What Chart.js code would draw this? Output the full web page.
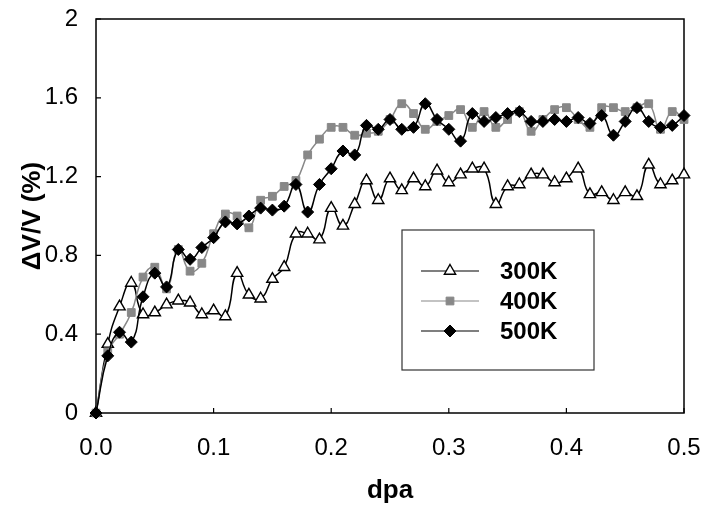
<!DOCTYPE html>
<html>
<head>
<meta charset="utf-8">
<script src="https://cdn.jsdelivr.net/npm/chart.js@4.4.1/dist/chart.umd.min.js"></script>
<style>
  html, body { margin: 0; padding: 0; background: #fff; }
  #wrap { width: 702px; height: 510px; position: relative; }
</style>
</head>
<body>
<div id="wrap"><canvas id="chart"></canvas></div>
<script>
// dpa values (x)
const dpa = [0, 0.01, 0.02, 0.03, 0.04, 0.05, 0.06, 0.07, 0.08, 0.09,
  0.10, 0.11, 0.12, 0.13, 0.14, 0.15, 0.16, 0.17, 0.18, 0.19,
  0.20, 0.21, 0.22, 0.23, 0.24, 0.25, 0.26, 0.27, 0.28, 0.29,
  0.30, 0.31, 0.32, 0.33, 0.34, 0.35, 0.36, 0.37, 0.38, 0.39,
  0.40, 0.41, 0.42, 0.43, 0.44, 0.45, 0.46, 0.47, 0.48, 0.49, 0.50];

// dV/V (%) per temperature
const s300K = [0, 0.35, 0.54, 0.66, 0.50, 0.51, 0.55, 0.57, 0.56, 0.50,
  0.52, 0.49, 0.71, 0.60, 0.58, 0.68, 0.74, 0.91, 0.91, 0.88,
  1.04, 0.95, 1.06, 1.18, 1.08, 1.19, 1.13, 1.19, 1.15, 1.23,
  1.17, 1.21, 1.24, 1.24, 1.06, 1.15, 1.16, 1.21, 1.21, 1.17,
  1.19, 1.24, 1.11, 1.12, 1.08, 1.12, 1.10, 1.26, 1.16, 1.18, 1.21];

const s400K = [0, 0.31, 0.40, 0.51, 0.69, 0.74, 0.63, 0.83, 0.72, 0.76,
  0.91, 1.01, 1.00, 0.94, 1.08, 1.10, 1.15, 1.18, 1.31, 1.39,
  1.45, 1.45, 1.41, 1.42, 1.43, 1.49, 1.57, 1.52, 1.44, 1.48,
  1.51, 1.54, 1.45, 1.53, 1.45, 1.49, 1.53, 1.43, 1.49, 1.54,
  1.55, 1.49, 1.45, 1.55, 1.55, 1.53, 1.55, 1.57, 1.44, 1.53, 1.49];

const s500K = [0, 0.29, 0.41, 0.36, 0.59, 0.71, 0.64, 0.83, 0.78, 0.84,
  0.89, 0.97, 0.96, 1.00, 1.04, 1.03, 1.05, 1.16, 1.02, 1.16,
  1.24, 1.33, 1.31, 1.46, 1.44, 1.49, 1.44, 1.45, 1.57, 1.49,
  1.44, 1.38, 1.52, 1.48, 1.50, 1.52, 1.53, 1.48, 1.48, 1.49,
  1.48, 1.50, 1.47, 1.51, 1.41, 1.48, 1.55, 1.48, 1.45, 1.46, 1.51];

const seriesNames = ['300K', '400K', '500K'];
const xTicks = [0, 0.1, 0.2, 0.3, 0.4, 0.5];
const yTicks = [0, 0.4, 0.8, 1.2, 1.6, 2];

function pts(vals){ return vals.map((v, i) => ({ x: dpa[i], y: v })); }

const FONT = '"Liberation Sans", Arial, sans-serif';
const GRAY = '#888888';

// frame, inward tick marks and the boxed legend
const framePlugin = {
  id: 'frame',
  beforeDatasetsDraw(chart){
    const { ctx, chartArea: a, scales } = chart;
    ctx.save();
    ctx.strokeStyle = '#000';
    ctx.lineWidth = 1.5;
    ctx.strokeRect(a.left, a.top, a.right - a.left, a.bottom - a.top);
    ctx.lineWidth = 1.2;
    ctx.beginPath();
    xTicks.forEach(t => {
      const x = scales.x.getPixelForValue(t);
      ctx.moveTo(x, a.bottom); ctx.lineTo(x, a.bottom - 5);
    });
    yTicks.forEach(t => {
      const y = scales.y.getPixelForValue(t);
      ctx.moveTo(a.left, y); ctx.lineTo(a.left + 5, y);
    });
    ctx.stroke();
    ctx.restore();
  },
  afterDraw(chart){
    const { ctx, chartArea: a } = chart;
    const bx = a.left + 306, by = a.top + 211, bw = 192, bh = 140;
    ctx.save();
    ctx.fillStyle = '#fff';
    ctx.fillRect(bx, by, bw, bh);
    ctx.strokeStyle = '#333';
    ctx.lineWidth = 1.2;
    ctx.strokeRect(bx, by, bw, bh);
    chart.data.datasets.forEach((ds, i) => {
      const y = by + 41 + i * 30;
      ctx.strokeStyle = ds.borderColor;
      ctx.lineWidth = 1.2;
      ctx.beginPath();
      ctx.moveTo(bx + 19, y); ctx.lineTo(bx + 77, y);
      ctx.stroke();
      ctx.fillStyle = ds.pointBackgroundColor;
      ctx.strokeStyle = ds.pointBorderColor;
      ctx.lineWidth = ds.pointBorderWidth;
      Chart.helpers.drawPoint(ctx, {
        pointStyle: ds.pointStyle, radius: ds.pointRadius, rotation: 0,
        borderWidth: ds.pointBorderWidth
      }, bx + 48, y);
      ctx.fillStyle = '#000';
      ctx.font = 'bold 24px ' + FONT;
      ctx.textAlign = 'left';
      ctx.textBaseline = 'middle';
      ctx.fillText(seriesNames[i], bx + 98, y + 1);
    });
    ctx.restore();
  }
};

const common = {
  borderWidth: 1.5,
  tension: 0.5,
  clip: false,
  pointHoverRadius: 5
};

new Chart(document.getElementById('chart'), {
  type: 'line',
  data: {
    datasets: [
      Object.assign({}, common, {
        label: seriesNames[0], data: pts(s300K), order: 2,
        borderColor: '#000', pointStyle: 'triangle', pointRadius: 6.5,
        pointBackgroundColor: '#fff', pointBorderColor: '#000', pointBorderWidth: 1.4
      }),
      Object.assign({}, common, {
        label: seriesNames[1], data: pts(s400K), order: 1,
        borderColor: GRAY, pointStyle: 'rect', pointRadius: 5.5,
        pointBackgroundColor: GRAY, pointBorderColor: GRAY, pointBorderWidth: 1
      }),
      Object.assign({}, common, {
        label: seriesNames[2], data: pts(s500K), order: 0,
        borderColor: '#000', pointStyle: 'rectRot', pointRadius: 6,
        pointBackgroundColor: '#000', pointBorderColor: '#000', pointBorderWidth: 1
      })
    ]
  },
  options: {
    responsive: true,
    maintainAspectRatio: false,
    animation: false,
    layout: { padding: { left: 0, right: 18, top: 19, bottom: 0 } },
    plugins: { legend: { display: false }, tooltip: { enabled: false } },
    scales: {
      x: {
        type: 'linear', min: 0, max: 0.5,
        afterBuildTicks(s){ s.ticks = xTicks.map(v => ({ value: v })); },
        afterFit(s){ s.height = 97; s.paddingLeft = 0; s.paddingRight = 0; },
        grid: { display: false, drawTicks: false },
        border: { display: false },
        ticks: {
          color: '#000', padding: 21, maxRotation: 0,
          font: { family: FONT, size: 24 },
          callback: v => Number(v).toFixed(1)
        },
        title: {
          display: true, text: 'dpa', color: '#000',
          font: { family: FONT, size: 26, weight: 'bold' },
          padding: { top: 0, bottom: 4 }
        }
      },
      y: {
        min: 0, max: 2,
        afterBuildTicks(s){ s.ticks = yTicks.map(v => ({ value: v })); },
        afterFit(s){ s.width = 96; s.paddingTop = 0; s.paddingBottom = 0; },
        grid: { display: false, drawTicks: false },
        border: { display: false },
        ticks: {
          color: '#000', padding: 18,
          font: { family: FONT, size: 24 },
          callback: v => String(Number(Number(v).toFixed(1)))
        },
        title: {
          display: true, text: 'ΔV/V (%)', color: '#000',
          font: { family: FONT, size: 26, weight: 'bold' },
          padding: { top: 17, bottom: 0 }
        }
      }
    }
  },
  plugins: [framePlugin]
});
</script>
</body>
</html>
